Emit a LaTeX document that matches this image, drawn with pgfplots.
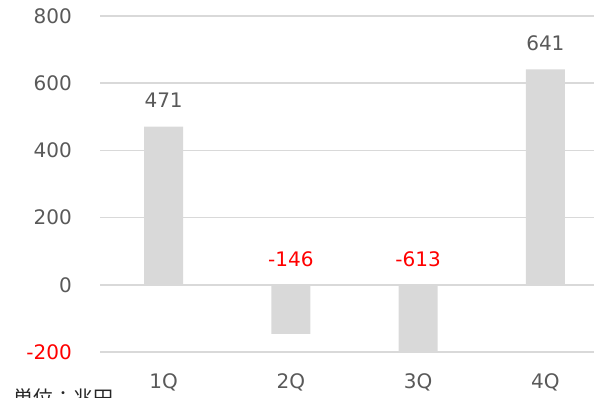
\documentclass[border=0pt]{standalone}
\usepackage{fontspec}
\setmainfont{DejaVu Sans}
\newfontfamily\cjk{Noto Sans CJK JP}
\usepackage{pgfplots}
\pgfplotsset{compat=1.18}
\definecolor{barg}{HTML}{D9D9D9}
\definecolor{gridg}{HTML}{D9D9D9}
\definecolor{txtg}{HTML}{595959}
\definecolor{redl}{HTML}{FF0000}
\begin{document}
\begin{tikzpicture}[x=1pt,y=1pt]
\useasboundingbox (0,0) rectangle (594,398);
\begin{axis}[
  at={(100pt,46pt)}, anchor=south west,
  scale only axis, width=509pt, height=336pt,
  xmin=-0.5, xmax=3.5, ymin=-200, ymax=800,
  axis line style={draw=none},
  major tick length=0pt,
  ymajorgrids, grid style={gridg, line width=1.5pt},
  xtick={0,1,2,3}, xticklabels={1Q,2Q,3Q,4Q},
  ytick={-200,0,200,400,600,800},
  yticklabels={{\textcolor{redl}{-200}},0,200,400,600,800},
  ticklabel style={font=\fontsize{20}{23}\selectfont, text=txtg, inner sep=0pt},
  yticklabel style={anchor=east, xshift=-28pt},
  xticklabel style={anchor=center, yshift=-30pt},
  clip=true,
]
\addplot[ybar, bar width=39pt, fill=barg, draw=none] coordinates {(0,471) (1,-146) (2,-613) (3,641)};
\addplot[draw=none, nodes near coords, point meta=explicit symbolic,
  nodes near coords style={text=txtg, anchor=center, yshift=26pt, inner sep=0pt, font=\fontsize{20}{23}\selectfont}]
  coordinates {(0,471)[471] (3,641)[641]};
\addplot[draw=none, nodes near coords, point meta=explicit symbolic,
  nodes near coords style={text=redl, anchor=center, yshift=26pt, inner sep=0pt, font=\fontsize{20}{23}\selectfont}]
  coordinates {(1,0)[-146] (2,0)[-613]};
\end{axis}
\node[anchor=base west, inner sep=0pt, font=\cjk\fontsize{20}{23}\selectfont, text=black!85] at (13,-8) {単位：兆円};
\end{tikzpicture}
\end{document}
